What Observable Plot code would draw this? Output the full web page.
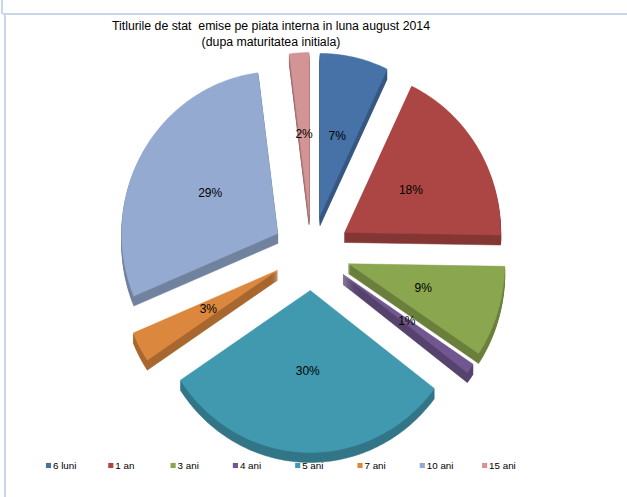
<!DOCTYPE html>
<html><head><meta charset="utf-8">
<script src="https://cdn.jsdelivr.net/npm/d3@7"></script>
<script src="https://cdn.jsdelivr.net/npm/@observablehq/plot@0.6"></script>
<style>
html,body{margin:0;padding:0;background:#fff;overflow:hidden}
#wrap{position:relative;width:627px;height:497px;font-family:"Liberation Sans",Arial,sans-serif}
#title{position:absolute;left:0;width:542px;top:18px;text-align:center;font-size:12.3px;line-height:16px;color:#000}
.bt{position:absolute;background:#c8d6e8}
#chart{position:absolute;left:0;top:0}
</style></head><body>
<div id="wrap">
<div class="bt" style="left:1px;top:0;width:2px;height:14px"></div>
<div class="bt" style="left:3px;top:13px;width:624px;height:2px"></div>
<div class="bt" style="left:4px;top:15px;width:2px;height:482px"></div>
<div id="chart"></div>
<div id="title">Titlurile de stat&nbsp; emise pe piata interna in luna august 2014<br>(dupa maturitatea initiala)</div>
</div>
<script>
const categories = ["6 luni","1 an","3 ani","4 ani","5 ani","7 ani","10 ani","15 ani"];
const values = [7,18,9,1,30,3,29,2];
const colors = ["#4672A8","#AB4644","#8AA64F","#70578F","#4199B0","#DC873E","#94AAD0","#D29494"];

const W=627,H=497;
const cx=311, cy=252, dx=39, dy=38, rx=156, ry=162, T=10;
const total = d3.sum(values);
const arcs = d3.pie().sort(null).value(d=>d)(values);
const tops=[], sides=[], labelPts=[];
arcs.forEach((a,i)=>{
  const mid=(a.startAngle+a.endAngle)/2;
  const ax=cx+dx*Math.sin(mid), ay=cy-dy*Math.cos(mid);
  const pts=[[ax,ay]];
  const n=Math.max(2,Math.ceil((a.endAngle-a.startAngle)/0.02));
  for(let k=0;k<=n;k++){
    const t=a.startAngle+(a.endAngle-a.startAngle)*k/n;
    pts.push([ax+rx*Math.sin(t), ay-ry*Math.cos(t)]);
  }
  pts.push([ax,ay]);
  const dark = d3.color(colors[i]).darker(0.75).formatHex();
  for(let off=1;off<=T;off++){
    pts.forEach(p=>sides.push({x:p[0],y:p[1]+off,z:i+"-"+off,c:dark}));
  }
  pts.forEach(p=>tops.push({x:p[0],y:p[1],z:"t"+i,c:colors[i]}));
  labelPts.push({x:ax+0.5*rx*Math.sin(mid), y:ay-0.5*ry*Math.cos(mid), text:Math.round(values[i]/total*100)+"%"});
});
const legend = categories.map((c,i)=>({x:48+i*62.3, y:465, c:colors[i], text:c}));

const chart = Plot.plot({
  width:W, height:H, margin:0,
  style:{fontFamily:"Liberation Sans, Arial, sans-serif", background:"transparent"},
  x:{domain:[0,W],range:[0,W],axis:null},
  y:{domain:[0,H],range:[0,H],axis:null},
  marks:[
    Plot.line(sides,{x:"x",y:"y",z:"z",fill:"c",stroke:"c",strokeWidth:0.5,curve:"linear"}),
    Plot.line(tops,{x:"x",y:"y",z:"z",fill:"c",stroke:"c",strokeWidth:0.5,curve:"linear"}),
    Plot.text(labelPts,{x:"x",y:"y",text:"text",fontSize:12,fill:"#000"}),
    Plot.dot(legend,{x:"x",y:"y",symbol:"square",r:2.9,fill:"c",stroke:null}),
    Plot.text(legend,{x:"x",y:"y",text:"text",dx:4.5,textAnchor:"start",fontSize:9.8,fill:"#000",style:"letter-spacing:-0.4px"})
  ]
});
document.getElementById("chart").appendChild(chart);
</script>
</body></html>
